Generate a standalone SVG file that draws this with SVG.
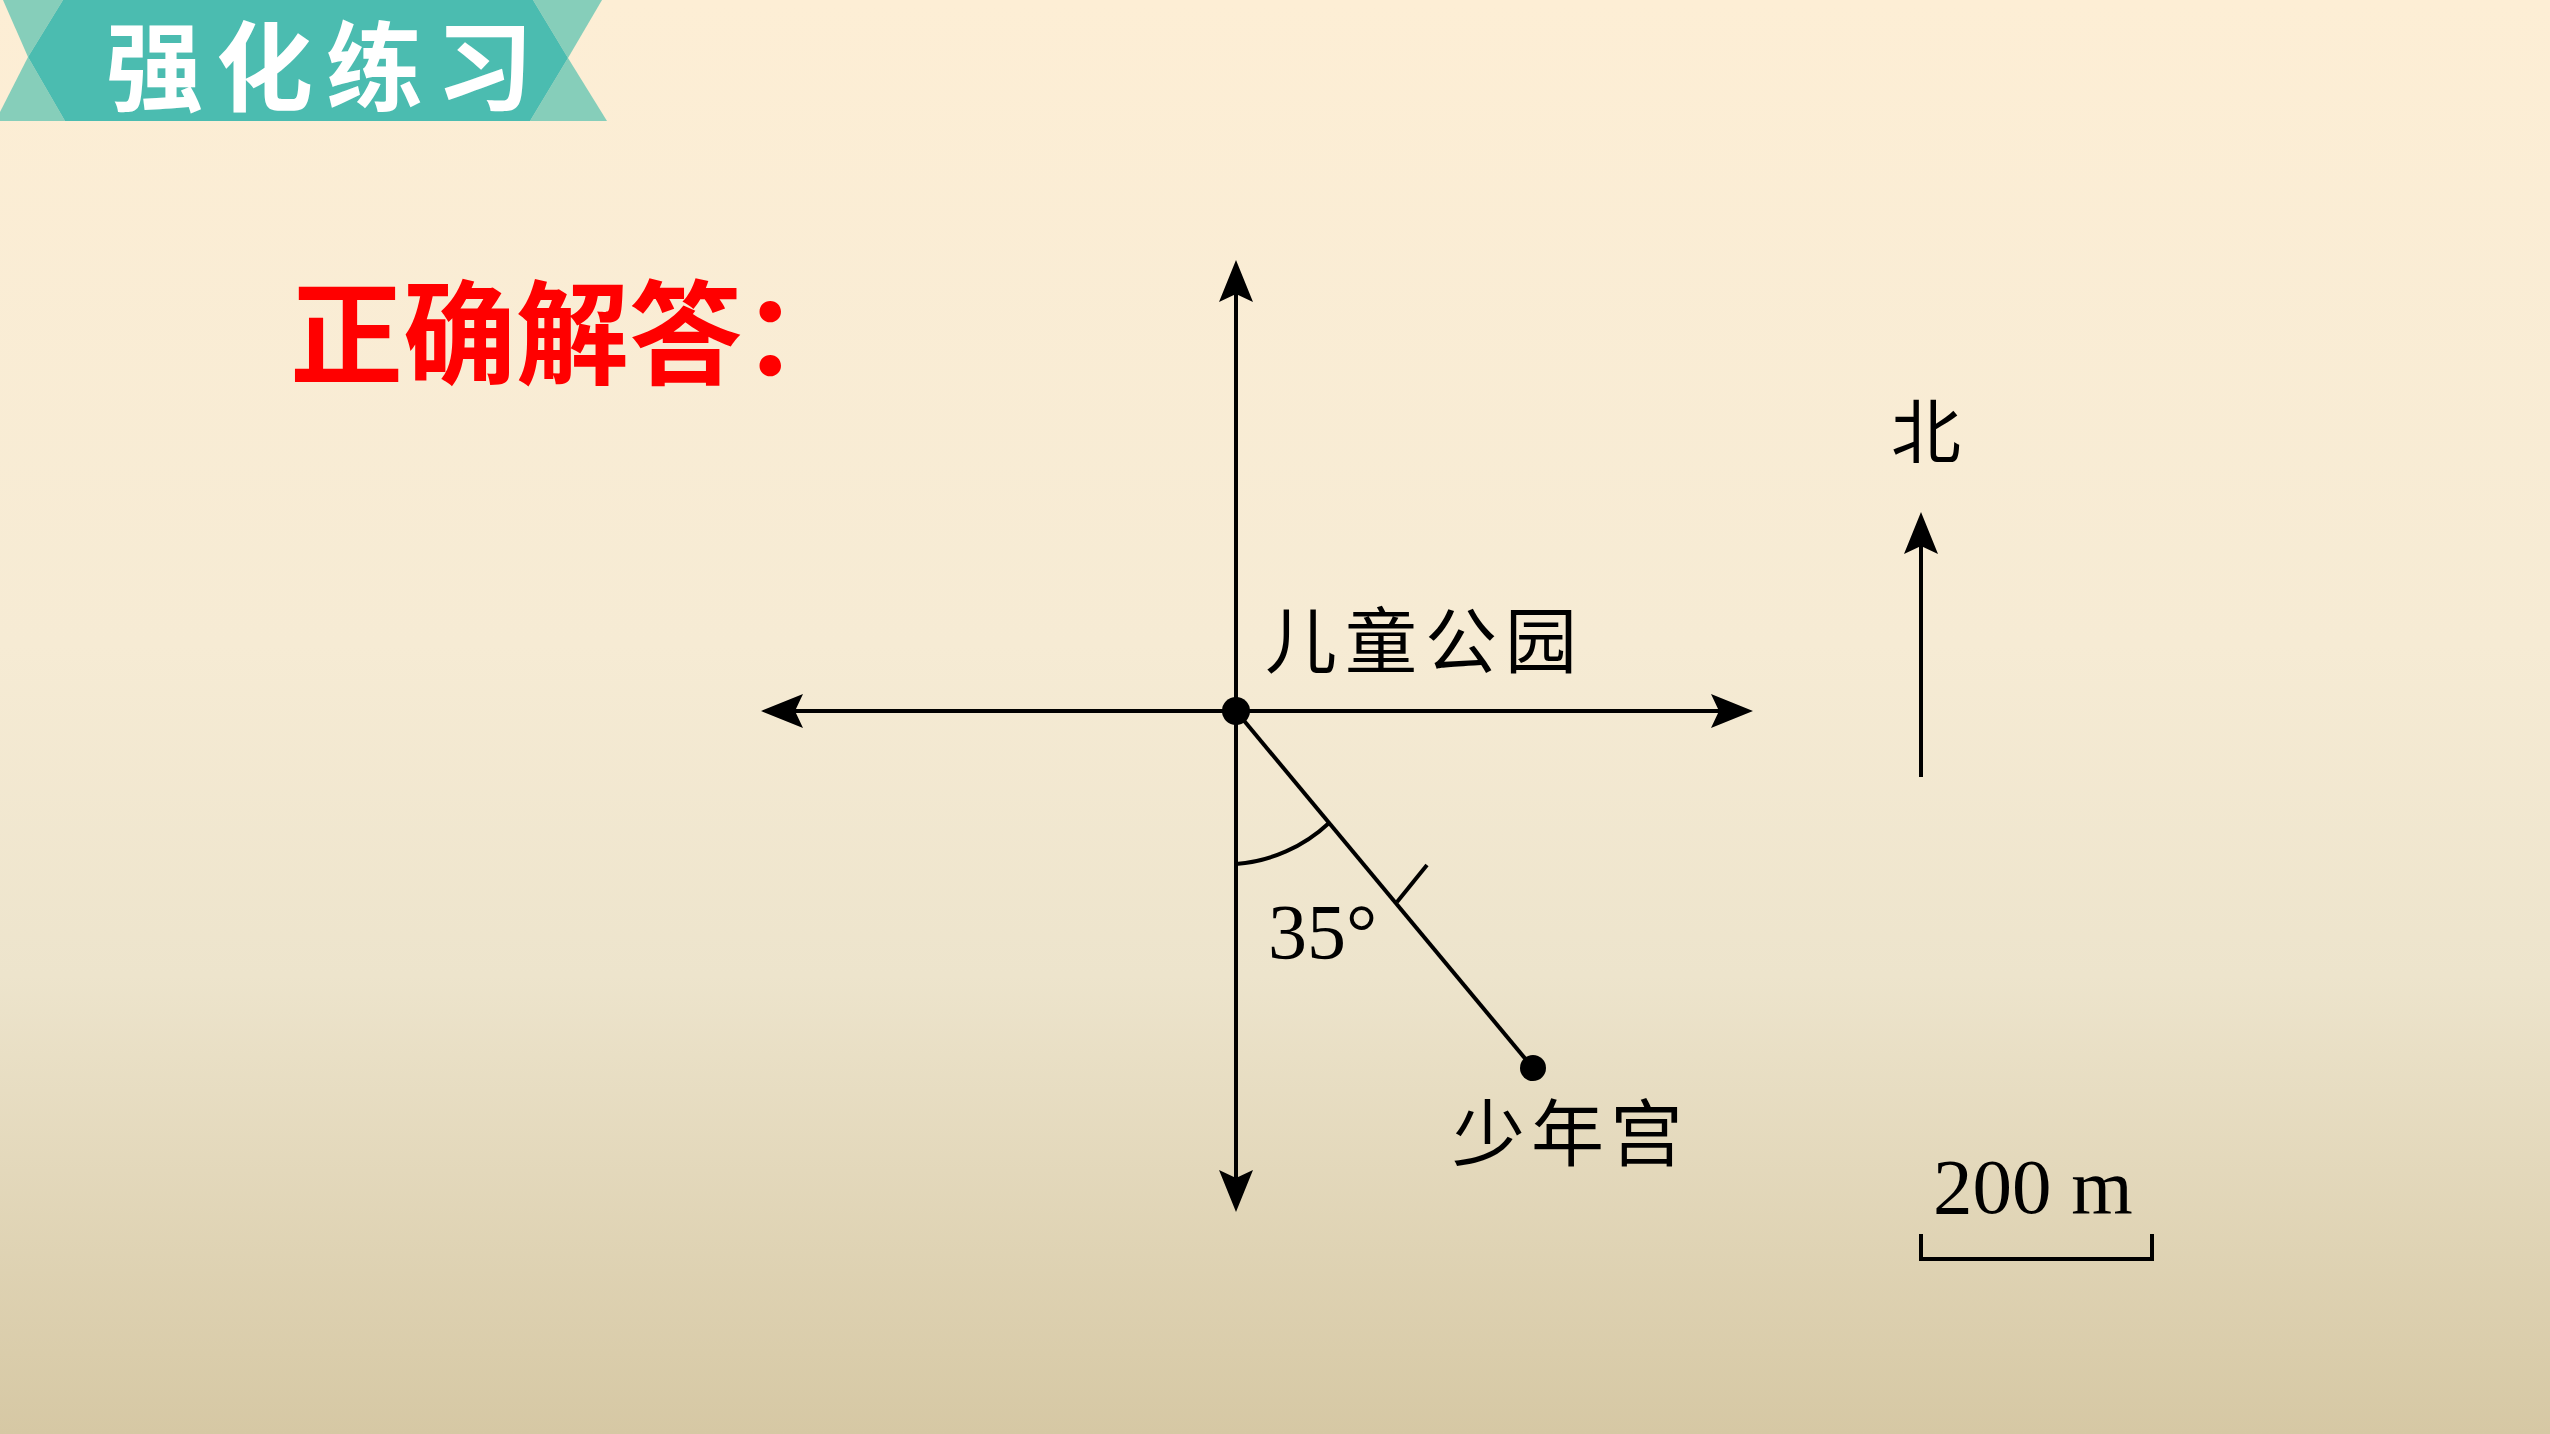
<svg xmlns="http://www.w3.org/2000/svg" width="2550" height="1434" viewBox="0 0 2550 1434">
  <defs>
    <linearGradient id="bg" x1="0" y1="0" x2="0" y2="1">
      <stop offset="0" stop-color="#FDEED5"/>
      <stop offset="0.45" stop-color="#F6EBD4"/>
      <stop offset="0.68" stop-color="#EDE4CC"/>
      <stop offset="1" stop-color="#D6C8A4"/>
    </linearGradient>
    <marker id="arrow" markerUnits="userSpaceOnUse" viewBox="0 0 42 34" markerWidth="42" markerHeight="34" refX="8" refY="17" orient="auto-start-reverse">
      <path d="M0,0 L42,17 L0,34 L8,17 Z" fill="#000"/>
    </marker>
    <style>
      .ln { stroke:#000; stroke-width:4; fill:none; }
      .cjk { font-family:"Noto Sans CJK SC","Noto Sans",sans-serif; fill:#000; }
      .num { font-family:"Liberation Serif","Times New Roman",serif; fill:#000; }
      .dark { fill:#4BBCB0; }
      .light { fill:#86CEBA; }
    </style>
  </defs>

  <rect x="0" y="0" width="2550" height="1434" fill="url(#bg)"/>

  <g id="banner">
    <polygon class="light" points="3,0 63,0 28,57"/>
    <polygon class="light" points="28,57 65,121 0,121 0,112"/>
    <polygon class="light" points="533,0 602,0 568,58"/>
    <polygon class="light" points="568,58 530,121 607,121"/>
    <polygon class="dark" points="63,0 533,0 568,58 530,121 65,121 28,57"/>
    <text x="106" y="103" font-family="'Noto Sans CJK SC','Noto Sans',sans-serif" font-weight="bold" font-size="97" letter-spacing="13" fill="#FFFFFF">强化练习</text>
  </g>

  <g id="title">
    <text x="290" y="375" font-family="'Noto Sans CJK SC','Noto Sans',sans-serif" font-weight="bold" font-size="113" fill="#FF0000">正确解答：</text>
  </g>

  <g id="connectors">
    <line class="ln" x1="1236" y1="294" x2="1236" y2="1178" marker-start="url(#arrow)" marker-end="url(#arrow)"/>
    <line class="ln" x1="795" y1="711" x2="1719" y2="711" marker-start="url(#arrow)" marker-end="url(#arrow)"/>
    <line class="ln" x1="1236" y1="711" x2="1533" y2="1068"/>
  </g>

  <g id="angle">
    <path class="ln" d="M1236,864 A153,153 0 0 0 1329,823"/>
    <line class="ln" x1="1397" y1="902" x2="1427" y2="865"/>
    <text class="num" x="1268" y="958" font-size="78">35°</text>
  </g>

  <g id="park">
    <circle cx="1236" cy="711" r="14" fill="#000"/>
    <text class="cjk" x="1265" y="667" font-size="72" letter-spacing="8">儿童公园</text>
  </g>

  <g id="palace">
    <circle cx="1533" cy="1068" r="13" fill="#000"/>
    <text class="cjk" x="1452" y="1160" font-size="73" letter-spacing="6">少年宫</text>
  </g>

  <g id="north">
    <text class="cjk" x="1891" y="458" font-size="70">北</text>
    <line class="ln" x1="1921" y1="777" x2="1921" y2="546" marker-end="url(#arrow)"/>
  </g>

  <g id="scale">
    <text class="num" x="1933" y="1213" font-size="79">200 m</text>
    <path class="ln" d="M1921,1234 V1259 H2152 V1234"/>
  </g>
</svg>
